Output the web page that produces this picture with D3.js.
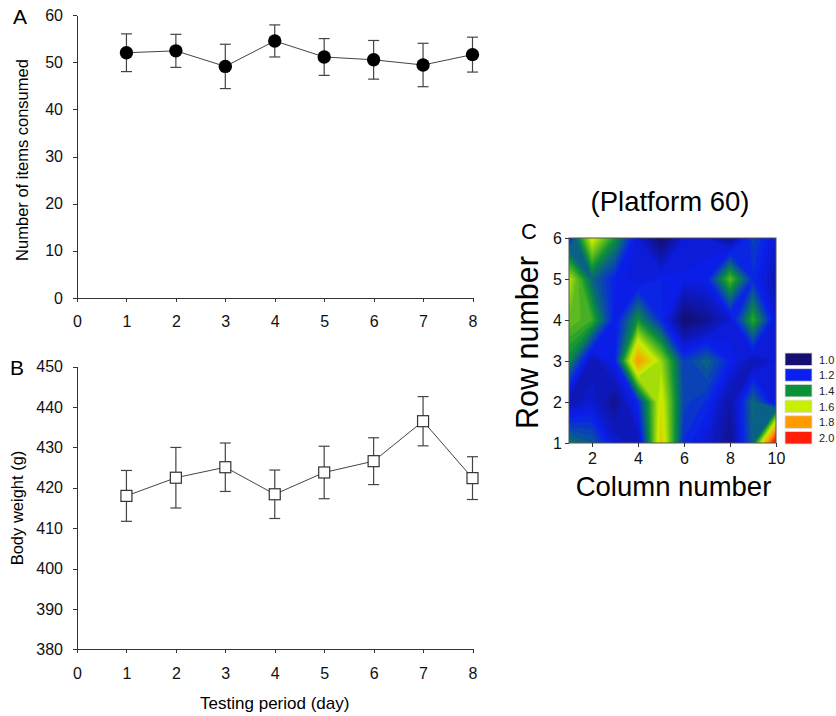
<!DOCTYPE html>
<meta charset="utf-8">
<head>
  <style>
    body { margin: 0; background: #fff; font-family: "Liberation Sans", Arial, sans-serif; }
    .axis path, .axis line { stroke: #333; shape-rendering: crispEdges; }
    .axis text { fill: #111; font-family: "Liberation Sans", Arial, sans-serif; }
  </style>
</head>
<body>
<svg id="fig" width="836" height="716"></svg>
<script src="https://cdn.jsdelivr.net/npm/d3@7"></script>
<script>

// ---- data ----
var days = [1, 2, 3, 4, 5, 6, 7, 8];

// A: number of items consumed (mean, SE)
var itemsMean = [52.0, 52.4, 49.1, 54.5, 51.1, 50.5, 49.4, 51.6];
var itemsErr  = [4.0, 3.5, 4.7, 3.4, 3.9, 4.1, 4.6, 3.7];

// B: body weight (g)
var weightMean = [418.0, 422.5, 425.1, 418.4, 423.8, 426.6, 436.5, 422.4];
var weightErr  = [6.3, 7.5, 6.0, 6.0, 6.5, 5.8, 6.1, 5.3];

// C: platform 60 grid, rows 1..6 (bottom to top), columns 1..10
var heatRows = [
  [1.35, 1.30, 1.15, 1.10, 1.68, 1.22, 1.15, 1.05, 1.32, 2.10],
  [1.10, 1.15, 1.05, 1.22, 1.63, 1.26, 1.22, 1.08, 1.33, 1.15],
  [1.38, 1.10, 1.20, 1.80, 1.55, 1.25, 1.32, 1.20, 1.10, 1.15],
  [1.50, 1.45, 1.18, 1.40, 1.22, 1.00, 1.05, 1.15, 1.44, 1.15],
  [1.58, 1.32, 1.20, 1.15, 1.20, 1.18, 1.20, 1.48, 1.22, 1.10],
  [1.20, 1.62, 1.40, 1.15, 1.00, 1.15, 1.15, 1.05, 1.26, 1.15]
];
var legendValues = [1.0, 1.2, 1.4, 1.6, 1.8, 2.0];
var legendColors = ["#140f70", "#0a1ff0", "#0b9236", "#c8ee00", "#ff9a00", "#ff1e0a"];

var svg = d3.select("#fig");

// ---------- shared x scale for A and B ----------
var x = d3.scaleLinear().domain([0, 8]).range([77, 472.5]);

function drawPanel(yScale, yTicks, mean, err, marker) {
  var g = svg.append("g");

  g.append("g").attr("class", "axis")
    .attr("transform", "translate(0," + yScale.range()[0] + ")")
    .call(d3.axisBottom(x).ticks(8).tickSize(4).tickPadding(14).tickSizeOuter(0))
    .style("font-size", "16px");

  g.append("g").attr("class", "axis")
    .attr("transform", "translate(" + x(0) + ",0)")
    .call(d3.axisLeft(yScale).tickValues(yTicks).tickSize(4).tickPadding(10).tickSizeOuter(0))
    .style("font-size", "16px");

  // line
  g.append("path")
    .datum(days)
    .attr("fill", "none")
    .attr("stroke", "#444")
    .attr("stroke-width", 1)
    .attr("d", d3.line().x(function(d){ return x(d) }).y(function(d, i){ return yScale(mean[i]) }));

  // error bars
  var eb = g.selectAll(".eb").data(days).enter().append("g").attr("stroke", "#444").attr("stroke-width", 1.2);
  eb.append("line")
    .attr("x1", function(d){ return x(d) }).attr("x2", function(d){ return x(d) })
    .attr("y1", function(d, i){ return yScale(mean[i] + err[i]) })
    .attr("y2", function(d, i){ return yScale(mean[i] - err[i]) });
  eb.append("line")
    .attr("x1", function(d){ return x(d) - 5.5 }).attr("x2", function(d){ return x(d) + 5.5 })
    .attr("y1", function(d, i){ return yScale(mean[i] + err[i]) })
    .attr("y2", function(d, i){ return yScale(mean[i] + err[i]) });
  eb.append("line")
    .attr("x1", function(d){ return x(d) - 5.5 }).attr("x2", function(d){ return x(d) + 5.5 })
    .attr("y1", function(d, i){ return yScale(mean[i] - err[i]) })
    .attr("y2", function(d, i){ return yScale(mean[i] - err[i]) });

  if (marker === "circle") {
    g.selectAll(".pt").data(days).enter().append("circle")
      .attr("cx", function(d){ return x(d) })
      .attr("cy", function(d, i){ return yScale(mean[i]) })
      .attr("r", 6.7)
      .attr("fill", "#000");
  } else {
    g.selectAll(".pt").data(days).enter().append("rect")
      .attr("x", function(d){ return x(d) - 5.5 })
      .attr("y", function(d, i){ return yScale(mean[i]) - 5.5 })
      .attr("width", 11).attr("height", 11)
      .attr("fill", "#fff").attr("stroke", "#333").attr("stroke-width", 1.2);
  }
  return g;
}

// ---------- panel A ----------
var yA = d3.scaleLinear().domain([0, 60]).range([298, 15]);
drawPanel(yA, d3.range(0, 61, 10), itemsMean, itemsErr, "circle");
svg.append("text").attr("x", 13).attr("y", 24).style("font-size", "21px").text("A");
svg.append("text")
  .attr("transform", "translate(28,160) rotate(-90)")
  .attr("text-anchor", "middle")
  .style("font-size", "16.5px")
  .text("Number of items consumed");

// ---------- panel B ----------
var yB = d3.scaleLinear().domain([380, 450]).range([649.3, 366.7]);
drawPanel(yB, d3.range(380, 451, 10), weightMean, weightErr, "square");
svg.append("text").attr("x", 10).attr("y", 375).style("font-size", "21px").text("B");
svg.append("text")
  .attr("transform", "translate(23,508) rotate(-90)")
  .attr("text-anchor", "middle")
  .style("font-size", "16.5px")
  .text("Body weight (g)");
svg.append("text")
  .attr("x", x(4)).attr("y", 709)
  .attr("text-anchor", "middle")
  .style("font-size", "17px")
  .text("Testing period (day)");

// ---------- panel C ----------
var xC = d3.scaleLinear().domain([1, 10]).range([569, 776]);
var yC = d3.scaleLinear().domain([1, 6]).range([443, 238]);
var nc = heatRows[0].length, nr = heatRows.length;
var values = [];
heatRows.forEach(function(row){ row.forEach(function(v){ values.push(v) }) });

// grid cell centres (i + 0.5) sit on the column/row numbers
var gx = d3.scaleLinear().domain([0.5, nc - 0.5]).range([xC(1), xC(10)]);
var gy = d3.scaleLinear().domain([0.5, nr - 0.5]).range([yC(1), yC(6)]);
var path = d3.geoPath(d3.geoTransform({
  point: function(px, py){ this.stream.point(gx(px), gy(py)); }
}));

var color = d3.scaleLinear().domain(legendValues).range(legendColors).clamp(true);
var thresholds = d3.range(0.9, 2.1, 0.025);
var contours = d3.contours().size([nc, nr]).thresholds(thresholds)(values);

svg.append("clipPath").attr("id", "clipC")
  .append("rect")
  .attr("x", xC(1)).attr("y", yC(6))
  .attr("width", xC(10) - xC(1)).attr("height", yC(1) - yC(6));

svg.append("g").attr("clip-path", "url(#clipC)")
  .selectAll("path")
  .data(contours)
  .enter().append("path")
    .attr("d", path)
    .attr("fill", function(d){ return color(d.value + 0.0125) })
    .attr("stroke", function(d){ return color(d.value + 0.0125) })
    .attr("stroke-width", 0.4);

svg.append("rect")
  .attr("x", xC(1)).attr("y", yC(6))
  .attr("width", xC(10) - xC(1)).attr("height", yC(1) - yC(6))
  .attr("fill", "none").attr("stroke", "#555").attr("stroke-width", 1);

svg.append("g").attr("class", "axis")
  .attr("transform", "translate(0," + yC(1) + ")")
  .call(d3.axisBottom(xC).tickValues([2, 4, 6, 8, 10]).tickSize(4).tickPadding(6).tickSizeOuter(0))
  .style("font-size", "16px")
  .call(function(s){ s.select(".domain").remove() });

svg.append("g").attr("class", "axis")
  .attr("transform", "translate(" + xC(1) + ",0)")
  .call(d3.axisLeft(yC).ticks(6).tickSize(4).tickPadding(3).tickSizeOuter(0))
  .style("font-size", "16px")
  .call(function(s){ s.select(".domain").remove() });

svg.append("text").attr("x", 670).attr("y", 211)
  .attr("text-anchor", "middle").style("font-size", "27.5px").text("(Platform 60)");
svg.append("text").attr("x", 521).attr("y", 239).style("font-size", "22px").text("C");
svg.append("text")
  .attr("transform", "translate(538," + (yC(3.45)) + ") rotate(-90)")
  .attr("text-anchor", "middle")
  .style("font-size", "30.5px")
  .text("Row number");
svg.append("text")
  .attr("x", (xC(1) + xC(10)) / 2 + 1).attr("y", 496)
  .attr("text-anchor", "middle")
  .style("font-size", "27.5px")
  .text("Column number");

// legend
var leg = svg.append("g").selectAll("g").data(legendValues).enter().append("g")
  .attr("transform", function(d, i){ return "translate(785," + (353 + i * 15.7) + ")" });
leg.append("rect")
  .attr("width", 27).attr("height", 12.5)
  .attr("fill", function(d, i){ return legendColors[i] })
  .attr("stroke", "#ddd").attr("stroke-width", 0.8);
leg.append("text")
  .attr("x", 34).attr("y", 10.5)
  .style("font-size", "11px")
  .attr("fill", "#222")
  .text(function(d){ return d.toFixed(1) });

</script>
</body>
